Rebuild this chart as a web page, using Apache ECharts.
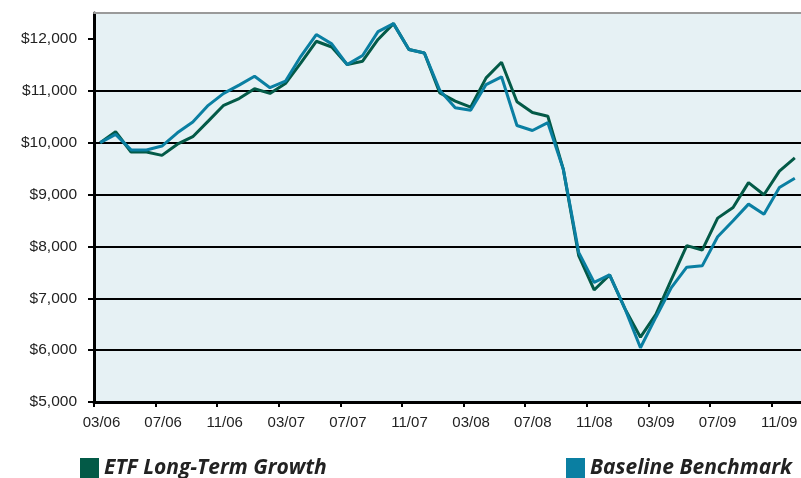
<!DOCTYPE html>
<html>
<head>
<meta charset="utf-8">
<script src="https://cdn.jsdelivr.net/npm/echarts@6/dist/echarts.min.js"></script>
<style>
  html, body { margin: 0; padding: 0; background: #ffffff; }
  #chart { width: 801px; height: 478px; }
</style>
</head>
<body>
<div id="chart"></div>
<script>
// Month-end values of a $10,000 investment, 03/06 through 12/09
const etfGrowth = [
  10000, 10210, 9820, 9820, 9755, 9970, 10115, 10415, 10720, 10850,
  11040, 10950, 11140, 11540, 11955, 11845, 11505, 11570, 11990, 12295,
  11795, 11730, 10960, 10800, 10685, 11250, 11550, 10790, 10580, 10510,
  9490, 7820, 7160, 7450, 6795, 6250, 6690, 7360, 8015, 7930,
  8545, 8750, 9230, 8995, 9450, 9705
];
const benchmark = [
  10000, 10160, 9860, 9860, 9935, 10190, 10400, 10720, 10950, 11110,
  11280, 11060, 11185, 11665, 12085, 11905, 11505, 11680, 12140, 12295,
  11795, 11730, 11010, 10675, 10625, 11120, 11270, 10330, 10235, 10385,
  9490, 7885, 7305, 7450, 6795, 6045, 6635, 7205, 7600, 7625,
  8186, 8495, 8815, 8620, 9135, 9315
];
const xTickLabels = ['03/06', '07/06', '11/06', '03/07', '07/07', '11/07',
                     '03/08', '07/08', '11/08', '03/09', '07/09', '11/09'];
const yTicks = [5000, 6000, 7000, 8000, 9000, 10000, 11000, 12000];
const seriesNames = ['ETF Long-Term Growth', 'Baseline Benchmark'];

const GREEN = '#035a47';
const BLUE = '#0a7fa2';
const labelFont = '"Liberation Sans", Arial, sans-serif';
const legendFont = '"Open Sans", "Noto Sans", sans-serif';

const chart = echarts.init(document.getElementById('chart'), null, { renderer: 'canvas' });

const money = v => '$' + v.toLocaleString('en-US');

const legendText = {
  color: '#222', fontFamily: legendFont, fontSize: 21, fontWeight: 700, fontStyle: 'italic'
};

chart.setOption({
  animation: false,
  backgroundColor: '#ffffff',
  grid: {
    left: 94, top: 13, right: 0, bottom: 76,
    show: true, borderWidth: 0, backgroundColor: '#e6f1f4'
  },
  xAxis: [
    {
      // month index axis used by the two lines; its line forms the grey top frame
      type: 'value', position: 'top',
      min: -0.4, max: 45.4,
      axisLine: { show: true, onZero: false, lineStyle: { color: '#9a9a9a', width: 2 } },
      axisTick: { show: false }, axisLabel: { show: false }, splitLine: { show: false }
    },
    {
      // four-month tick marks and date labels along the bottom
      type: 'value', position: 'bottom',
      min: 0, max: 11.477, interval: 1,
      axisLine: { show: true, onZero: false, lineStyle: { color: '#000', width: 3 } },
      axisTick: { show: true, length: 5, lineStyle: { color: '#000', width: 2 } },
      axisLabel: {
        show: true, margin: 13, showMaxLabel: false,
        padding: [0, 0, 0, 15],
        color: '#222', fontFamily: labelFont, fontSize: 15,
        formatter: v => (Number.isInteger(v) && xTickLabels[v]) ? xTickLabels[v] : ''
      },
      splitLine: { show: false }
    }
  ],
  yAxis: {
    type: 'value', min: 5000, max: 12500,
    axisLine: { show: true, onZero: false, lineStyle: { color: '#000', width: 3 } },
    axisTick: { show: true, length: 6, customValues: yTicks, lineStyle: { color: '#000', width: 2 } },
    axisLabel: {
      show: true, margin: 17, customValues: yTicks,
      color: '#222', fontFamily: labelFont, fontSize: 15.5,
      formatter: money
    },
    splitLine: {
      show: true, showMinLine: false, showMaxLine: false,
      lineStyle: { color: '#000', width: 2 }
    },
    interval: 500
  },
  legend: [
    {
      data: [seriesNames[0]], left: 80, top: 458, padding: 0,
      icon: 'rect', itemWidth: 19, itemHeight: 21, itemGap: 8,
      textStyle: legendText
    },
    {
      data: [seriesNames[1]], left: 566, top: 458, padding: 0,
      icon: 'rect', itemWidth: 19, itemHeight: 21, itemGap: 8,
      textStyle: legendText
    }
  ],
  series: [
    {
      name: seriesNames[0], type: 'line', xAxisIndex: 0,
      data: etfGrowth.map((v, i) => [i, v]),
      showSymbol: false, color: GREEN,
      lineStyle: { color: GREEN, width: 3 }, z: 3
    },
    {
      name: seriesNames[1], type: 'line', xAxisIndex: 0,
      data: benchmark.map((v, i) => [i, v]),
      showSymbol: false, color: BLUE,
      lineStyle: { color: BLUE, width: 3 }, z: 4
    }
  ]
});
</script>
</body>
</html>
